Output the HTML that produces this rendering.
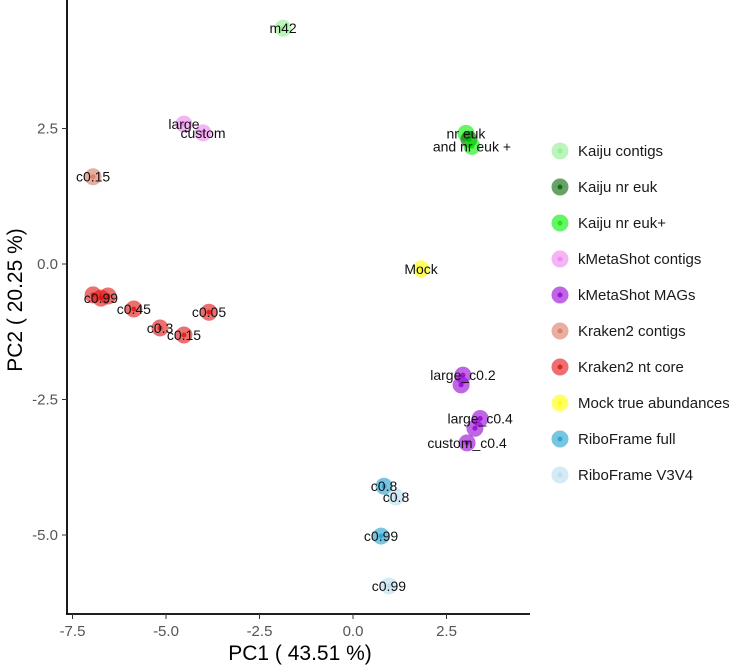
<!DOCTYPE html>
<html><head><meta charset="utf-8"><style>
body{margin:0;background:#fff;}
svg{display:block;font-family:"Liberation Sans",Arial,sans-serif;}
</style></head><body>
<svg id="chart" width="729" height="667"></svg>
<script>
const groups=["Kaiju contigs","Kaiju nr euk","Kaiju nr euk+","kMetaShot contigs","kMetaShot MAGs","Kraken2 contigs","Kraken2 nt core","Mock true abundances","RiboFrame full","RiboFrame V3V4"];
const colors=["#90EE90","#006400","#00EE00","#EE82EE","#9400D3","#D8785F","#E01010","#FFFF00","#1E9FCF","#B8DCEE"];
const pointGroup=[0,3,3,5,6,6,6,6,6,6,6,2,1,2,7,4,4,4,4,4,8,8,9,9];
const pc1=[-1.87,-4.52,-4.01,-6.95,-6.95,-6.74,-6.55,-5.86,-5.16,-4.52,-3.85,3.02,3.10,3.18,1.82,2.94,2.89,3.40,3.26,3.05,0.83,0.75,1.15,0.96];
const pc2=[4.35,2.58,2.42,1.61,-0.57,-0.63,-0.59,-0.83,-1.18,-1.31,-0.89,2.41,2.30,2.17,-0.09,-2.05,-2.23,-2.85,-3.03,-3.30,-4.10,-5.02,-4.30,-5.94];
const pointLabels=["m42","large","custom","c0.15","","c0.99","","c0.45","c0.3","c0.15","c0.05","nr euk","","and nr euk +","Mock","large_c0.2","","large_c0.4","","custom_c0.4","c0.8","c0.99","c0.8","c0.99"];
const xTicks=[-7.5,-5.0,-2.5,0.0,2.5];
const yTicks=[2.5,0.0,-2.5,-5.0];
const NS="http://www.w3.org/2000/svg";
const svg=document.getElementById("chart");
const X=v=>353+v*37.4;
const Y=v=>264-v*54.2;
function mk(t,a,p){const e=document.createElementNS(NS,t);for(const k in a)e.setAttribute(k,a[k]);(p||svg).appendChild(e);return e;}
const ax=mk("line",{x1:67,y1:0,x2:67,y2:614,stroke:"#000","stroke-width":1.8});


const bx=mk("line",{x1:66,y1:614,x2:530,y2:614,stroke:"#000","stroke-width":1.8});


xTicks.forEach(v=>{
  mk("line",{x1:X(v),y1:614,x2:X(v),y2:619,stroke:"#333","stroke-width":1});
  const t=mk("text",{x:X(v),y:636,"text-anchor":"middle","font-size":15,fill:"#555"});t.textContent=v.toFixed(1);
  
  
});
yTicks.forEach(v=>{
  mk("line",{x1:62,y1:Y(v),x2:67,y2:Y(v),stroke:"#333","stroke-width":1});
  const t=mk("text",{x:58,y:Y(v)+5,"text-anchor":"end","font-size":15,fill:"#555"});t.textContent=v.toFixed(1);
  
  
});
const xt=mk("text",{x:300,y:660,"text-anchor":"middle","font-size":21,fill:"#000"});xt.textContent="PC1 ( 43.51 %)";


const yt=mk("text",{x:0,y:0,"text-anchor":"middle","font-size":21,fill:"#000",transform:"translate(22,300) rotate(-90)"});yt.textContent="PC2 ( 20.25 %)";


pc1.forEach((v,i)=>{
  const c=colors[pointGroup[i]];
  const g=mk("g",{});
  
  
  mk("circle",{cx:X(v),cy:Y(pc2[i]),r:8.5,fill:c,"fill-opacity":0.6},g);
  mk("circle",{cx:X(v),cy:Y(pc2[i]),r:2.5,fill:c,"fill-opacity":0.8},g);
});
pc1.forEach((v,i)=>{
  if(!pointLabels[i])return;
  const t=mk("text",{x:X(v),y:Y(pc2[i])+5,"text-anchor":"middle","font-size":14,fill:"#111"});
  t.textContent=pointLabels[i];
  
  
});
groups.forEach((gname,i)=>{
  const y=151+i*36;
  const g=mk("g",{});
  
  
  mk("circle",{cx:560,cy:y,r:8.5,fill:colors[i],"fill-opacity":0.6},g);
  mk("circle",{cx:560,cy:y,r:2.5,fill:colors[i],"fill-opacity":0.8},g);
  const t=mk("text",{x:578,y:y+5,"font-size":15,fill:"#1a1a1a"},g);t.textContent=gname;
});
</script>
</body></html>
